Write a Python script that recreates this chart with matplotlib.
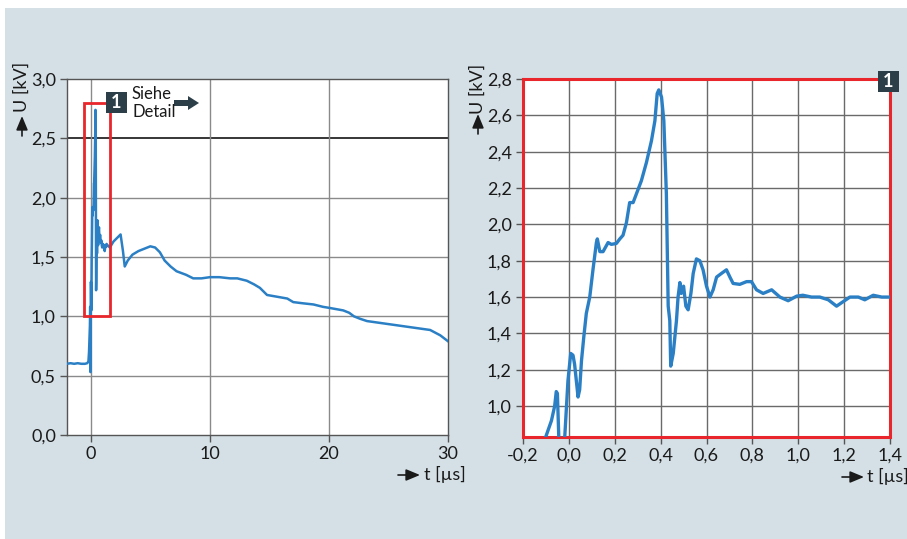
import matplotlib
matplotlib.use("Agg")
import matplotlib.pyplot as plt
from matplotlib.patches import Rectangle

plt.rcParams['font.family'] = ['Lato', 'DejaVu Sans']

# ---------------- data ----------------
t_us = [-2.0, -1.7, -1.4, -1.1, -0.8, -0.5, -0.3, -0.2, -0.15, -0.101, -0.076, -0.062,
        -0.055, -0.05, -0.044, -0.03, -0.018, -0.004, 0.008, 0.018, 0.025, 0.04,
        0.047, 0.055, 0.065, 0.076, 0.091, 0.105, 0.12, 0.124, 0.135, 0.149,
        0.171, 0.185, 0.207, 0.222, 0.236, 0.251, 0.265, 0.28, 0.295, 0.316,
        0.338, 0.36, 0.375, 0.385, 0.392, 0.404, 0.414, 0.425, 0.433, 0.44,
        0.444, 0.455, 0.469, 0.476, 0.484, 0.49, 0.5, 0.51, 0.52, 0.532, 0.542,
        0.556, 0.571, 0.585, 0.6, 0.615, 0.629, 0.644, 0.665, 0.687, 0.702,
        0.716, 0.745, 0.775, 0.796, 0.818, 0.847, 0.884, 0.92, 0.956, 0.993,
        1.02, 1.058, 1.094, 1.131, 1.167, 1.196, 1.225, 1.262, 1.29, 1.327,
        1.364, 1.4, 1.6, 1.9, 2.2, 2.5, 2.7, 2.85, 3.1, 3.5, 4.0, 4.5, 5.0,
        5.4, 5.8, 6.2, 6.7, 7.2, 8.0, 8.6, 9.3, 10.0, 10.8, 11.7, 12.3, 13.1,
        13.7, 14.2, 14.8, 15.9, 16.5, 17.0, 17.8, 18.7, 19.5, 20.1, 21.2, 21.7,
        22.1, 22.6, 23.2, 24.6, 26.0, 27.4, 28.5, 29.35, 30.0]
u_kv = [0.60, 0.605, 0.60, 0.605, 0.60, 0.60, 0.605, 0.62, 0.70, 0.83, 0.92, 1.00,
        1.08, 1.07, 0.83, 0.53, 0.83, 1.14, 1.29, 1.28, 1.23, 1.05,
        1.09, 1.25, 1.38, 1.51, 1.60, 1.75, 1.90, 1.92, 1.85, 1.85,
        1.90, 1.89, 1.895, 1.92, 1.94, 2.01, 2.12, 2.12, 2.17, 2.24,
        2.34, 2.46, 2.57, 2.72, 2.74, 2.70, 2.57, 2.17, 1.55, 1.47,
        1.22, 1.29, 1.47, 1.60, 1.68, 1.62, 1.66, 1.55, 1.53, 1.62, 1.73,
        1.81, 1.80, 1.75, 1.66, 1.60, 1.64, 1.71, 1.73, 1.75, 1.71,
        1.675, 1.67, 1.685, 1.685, 1.64, 1.62, 1.64, 1.60, 1.58, 1.605,
        1.61, 1.60, 1.60, 1.585, 1.55, 1.575, 1.60, 1.60, 1.585, 1.61,
        1.60, 1.60, 1.58, 1.63, 1.66, 1.69, 1.55, 1.42, 1.47, 1.52, 1.55, 1.57, 1.59,
        1.58, 1.54, 1.47, 1.42, 1.38, 1.35, 1.32, 1.32, 1.33, 1.33, 1.32, 1.32, 1.30,
        1.27, 1.24, 1.18, 1.16, 1.15, 1.12, 1.11, 1.10, 1.08, 1.07, 1.05, 1.03,
        1.00, 0.98, 0.96, 0.94, 0.92, 0.90, 0.885, 0.84, 0.79]

left_xticks = [0, 10, 20, 30]
left_xticklabels = ["0", "10", "20", "30"]
left_yticks = [0.0, 0.5, 1.0, 1.5, 2.0, 2.5, 3.0]
left_yticklabels = ["0,0", "0,5", "1,0", "1,5", "2,0", "2,5", "3,0"]
right_xticks = [-0.2, 0.0, 0.2, 0.4, 0.6, 0.8, 1.0, 1.2, 1.4]
right_xticklabels = ["-0,2", "0,0", "0,2", "0,4", "0,6", "0,8", "1,0", "1,2", "1,4"]
right_yticks = [1.0, 1.2, 1.4, 1.6, 1.8, 2.0, 2.2, 2.4, 2.6, 2.8]
right_yticklabels = ["1,0", "1,2", "1,4", "1,6", "1,8", "2,0", "2,2", "2,4", "2,6", "2,8"]
detail_t = [-0.6, 1.6]
detail_u = [1.0, 2.8]

# ---------------- layout ----------------
W, H = 907, 539
BG = '#d5e0e6'
LINE = '#2b80c5'
DARK = '#2c3f48'
RED = '#e8262b'
FS = 13
TXT = '#1a1a1a'

fig = plt.figure(figsize=(W / 100, H / 100), dpi=100, facecolor=BG)


def px(x, y):
    return x / W, 1 - y / H


def axes_px(x0, y0, x1, y1):
    return fig.add_axes([x0 / W, 1 - y1 / H, (x1 - x0) / W, (y1 - y0) / H])


# white border strips
fig.add_artist(Rectangle((0, 1 - 8 / H), 1, 8 / H, transform=fig.transFigure,
                         facecolor='white', edgecolor='none', zorder=0))
fig.add_artist(Rectangle((0, 0), 5 / W, 1, transform=fig.transFigure,
                         facecolor='white', edgecolor='none', zorder=0))

# ---------- left axes ----------
ax1 = axes_px(67, 79, 448, 435)
ax1.set_facecolor('white')
ax1.plot(t_us, u_kv, color=LINE, lw=1.8, zorder=3)
ax1.set_xlim(-2, 30)
ax1.set_ylim(0, 3.0)
ax1.set_xticks(left_xticks)
ax1.set_xticklabels(left_xticklabels)
ax1.set_yticks(left_yticks)
ax1.set_yticklabels(left_yticklabels)
for v in left_yticks[1:-1]:
    ax1.axhline(v, color='black' if v == 2.5 else '#8a8a8a', lw=1.1 if v == 2.5 else 1.0, zorder=1)
for v in left_xticks[:-1]:
    ax1.axvline(v, color='#8a8a8a', lw=1.0, zorder=1)
for s in ax1.spines.values():
    s.set_color('#555555')
    s.set_linewidth(1.0)
ax1.tick_params(direction='out', length=5, width=1, color='#555555', labelsize=FS,
                labelcolor=TXT, pad=3)
ax1.add_patch(Rectangle((detail_t[0], detail_u[0]), detail_t[1] - detail_t[0],
                        detail_u[1] - detail_u[0], fill=False, edgecolor=RED,
                        lw=2, zorder=4))

# ---------- right axes ----------
ax2 = axes_px(523, 79, 890, 437)
ax2.set_facecolor('white')
ax2.plot(t_us, u_kv, color=LINE, lw=2.4, zorder=3)
ax2.set_xlim(-0.2, 1.4)
ax2.set_ylim(0.83, 2.8)
ax2.set_xticks(right_xticks)
ax2.set_xticklabels(right_xticklabels)
ax2.set_yticks(right_yticks)
ax2.set_yticklabels(right_yticklabels)
ax2.grid(True, color='#6a6a6a', lw=1.0, zorder=1)
ax2.set_axisbelow(True)
for s in ax2.spines.values():
    s.set_color(RED)
    s.set_linewidth(2.2)
ax2.tick_params(direction='out', length=5, width=1, color='#555555', labelsize=FS,
                labelcolor=TXT, pad=3)

# ---------- badges ----------
def badge(x0, y0, x1, y1):
    fx, fy = px(x0, y1)
    fig.add_artist(Rectangle((fx, fy), (x1 - x0) / W, (y1 - y0) / H,
                             transform=fig.transFigure, facecolor=DARK,
                             edgecolor='none', zorder=10))
    cx, cy = px((x0 + x1) / 2, (y0 + y1) / 2)
    fig.text(cx, cy, "1", color='white', fontsize=13, fontweight='bold',
             ha='center', va='center', zorder=11)


badge(106, 92, 127, 113)
badge(878, 71, 899, 92)

fig.text(*px(132, 94), "Siehe", fontsize=12, ha='left', va='center', color=TXT)
fig.text(*px(132, 112), "Detail", fontsize=12, ha='left', va='center', color=TXT)
fig.patches.append(matplotlib.patches.FancyArrow(
    174 / W, 1 - 103 / H, 14 / W, 0, width=6 / H, head_width=14 / H,
    head_length=11 / W, length_includes_head=False,
    transform=fig.transFigure, facecolor=DARK, edgecolor='none'))

# ---------- axis labels with arrows ----------
def ylabel(x, ytext, yarrow0, yarrow1):
    fig.text(*px(x, ytext), "U [kV]", rotation=90, fontsize=FS, ha='center',
             va='center', color=TXT)
    fig.add_artist(matplotlib.patches.FancyArrowPatch(
        px(x, yarrow0), px(x, yarrow1), transform=fig.transFigure,
        arrowstyle='-|>,head_length=0.6,head_width=0.25', mutation_scale=14,
        color=TXT, lw=1.2, shrinkA=0, shrinkB=0))


def xlabel(xtext, y, xarrow0, xarrow1):
    fig.text(*px(xtext, y), "t [µs]", fontsize=FS, ha='left', va='center',
             color=TXT)
    fig.add_artist(matplotlib.patches.FancyArrowPatch(
        px(xarrow0, y + 1), px(xarrow1, y + 1), transform=fig.transFigure,
        arrowstyle='-|>,head_length=0.6,head_width=0.25', mutation_scale=14,
        color=TXT, lw=1.2, shrinkA=0, shrinkB=0))


ylabel(22, 87, 136, 116)
ylabel(478, 89, 134, 114)
xlabel(424, 474, 398, 420)
xlabel(867, 476, 842, 864)

fig.savefig("out.png", dpi=100, facecolor=BG)
